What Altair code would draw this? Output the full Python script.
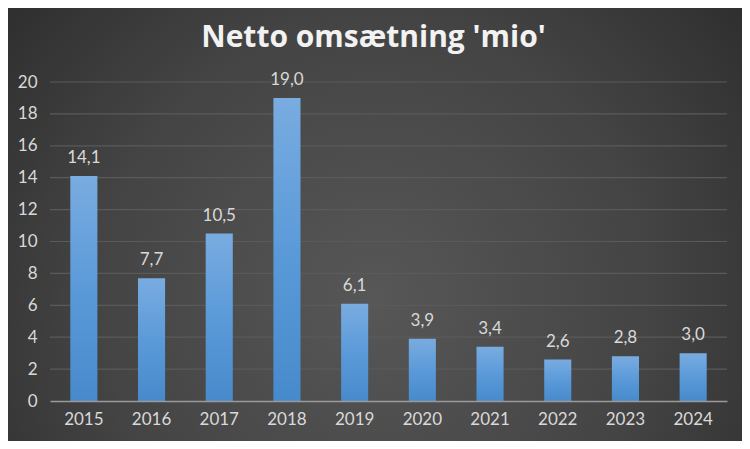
import altair as alt
import pandas as pd

years = ["2015", "2016", "2017", "2018", "2019", "2020", "2021", "2022", "2023", "2024"]
values = [14.1, 7.7, 10.5, 19.0, 6.1, 3.9, 3.4, 2.6, 2.8, 3.0]
labels = [f"{v:.1f}".replace(".", ",") for v in values]
y_ticks = [0, 2, 4, 6, 8, 10, 12, 14, 16, 18, 20]
title_text = "Netto omsætning 'mio'"

df = pd.DataFrame({"year": years, "value": values, "label": labels})
grid_df = pd.DataFrame({"value": y_ticks[1:]})

W, H = 677, 319
PL, PT, PR, PB = 42, 74, 15, 40

one = pd.DataFrame({"a": [0]})

y_scale = alt.Scale(domain=[0, 20], nice=False)
y_axis = alt.Axis(values=y_ticks, labelFont="Lato", labelFontSize=17,
                  labelColor="#d9d9d9", labelPadding=13, ticks=False,
                  labelOverlap=False, domain=False, grid=False, zindex=1)

bg = alt.Chart(one).mark_rect(
    color=alt.Gradient(
        gradient="radial",
        stops=[alt.GradientStop(color="#575757", offset=0),
               alt.GradientStop(color="#444444", offset=0.5),
               alt.GradientStop(color="#262626", offset=1)],
        x1=0.5, y1=0.6, x2=0.5, y2=0.6, r1=0, r2=0.75,
    )
).encode(
    x=alt.value(-PL), x2=alt.value(W + PR),
    y=alt.value(-PT), y2=alt.value(H + PB),
)

title = alt.Chart(one).mark_text(
    font="Open Sans", fontSize=30, fontWeight="bold", color="#f2f2f2",
    align="center", baseline="alphabetic",
).encode(x=alt.value(W / 2 - 15), y=alt.value(-35), text=alt.value(title_text))

grid = alt.Chart(grid_df).mark_rule(color="#5a5a5a", strokeWidth=1.2).encode(
    y=alt.Y("value:Q", title=None, scale=y_scale, axis=y_axis),
)

base = alt.Chart(df).encode(
    x=alt.X("year:N", sort=years, title=None,
            scale=alt.Scale(paddingInner=0.6, paddingOuter=0.3),
            axis=alt.Axis(labelAngle=0, labelFont="Lato", labelFontSize=17,
                          labelColor="#d9d9d9", labelPadding=10, ticks=False,
                          domainColor="#9a9a9a", domainWidth=1.5, grid=False,
                          zindex=1)),
)

bars = base.mark_bar(
    color=alt.Gradient(
        gradient="linear",
        stops=[alt.GradientStop(color="#79ace0", offset=0),
               alt.GradientStop(color="#5b9ad9", offset=0.5),
               alt.GradientStop(color="#478acb", offset=1)],
        x1=0, x2=0, y1=0, y2=1,
    )
).encode(
    y=alt.Y("value:Q", title=None, scale=y_scale, axis=y_axis),
)

text = base.mark_text(dy=-18, font="Lato", fontSize=17, color="#d9d9d9").encode(
    y=alt.Y("value:Q", title=None, scale=y_scale, axis=y_axis), text="label:N"
)

chart = alt.layer(bg, grid, bars, text, title).properties(
    width=W, height=H,
    padding={"left": PL, "top": PT, "right": PR, "bottom": PB},
    autosize=alt.AutoSizeParams(type="none"),
    background="#2e2e2e",
).configure_view(stroke=None)

chart.save("out.html", embed_options={"renderer": "svg", "actions": False})
